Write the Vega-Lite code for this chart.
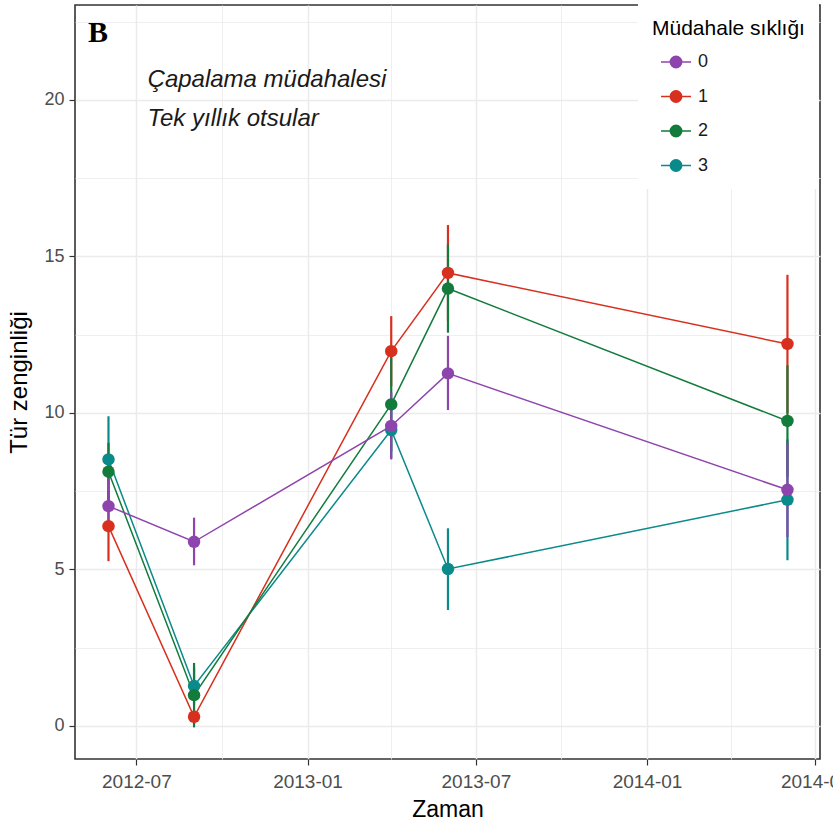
{
  "$schema": "https://vega.github.io/schema/vega-lite/v6.json",
  "width": 745,
  "height": 754,
  "autosize": {"type": "none"},
  "padding": {"left": 75, "top": 5, "right": 13, "bottom": 63},
  "background": "white",
  "config": {
    "view": {"stroke": "#333333", "strokeWidth": 1.6},
    "font": "Liberation Sans",
    "axis": {
      "domain": false,
      "gridColor": "#EBEBEB",
      "tickColor": "#333333",
      "tickWidth": 1.2,
      "labelColor": "#4D4D4D",
      "labelFont": "Liberation Sans",
      "titleFont": "Liberation Sans",
      "titleFontWeight": "normal",
      "titleColor": "#000000"
    },
    "legend": {
      "orient": "none",
      "legendX": 563,
      "legendY": -1,
      "fillColor": "white",
      "padding": 14,
      "titleFont": "Liberation Sans",
      "titleFontSize": 21,
      "titleFontWeight": "normal",
      "titleColor": "#000000",
      "titlePadding": 7,
      "labelFont": "Liberation Sans",
      "labelFontSize": 18,
      "labelColor": "#1A1A1A",
      "labelOffset": 6,
      "symbolType": "M-1,0H1M-0.38,0A0.38,0.38,0,1,0,0.38,0A0.38,0.38,0,1,0,-0.38,0Z",
      "symbolSize": 900,
      "symbolStrokeWidth": 1.5,
      "symbolOffset": 8,
      "rowPadding": 9.5
    }
  },
  "datasets": {
    "richness": [
      {"date": "2012-06-01T00:00:00", "group": "1", "value": 6.38, "lo": 5.26, "hi": 7.5},
      {"date": "2012-09-01T00:00:00", "group": "1", "value": 0.29, "lo": 0.06, "hi": 0.52},
      {"date": "2013-04-01T00:00:00", "group": "1", "value": 11.97, "lo": 10.85, "hi": 13.09},
      {"date": "2013-06-01T00:00:00", "group": "1", "value": 14.47, "lo": 12.94, "hi": 16.0},
      {"date": "2014-06-01T00:00:00", "group": "1", "value": 12.2, "lo": 9.99, "hi": 14.41},
      {"date": "2012-06-01T00:00:00", "group": "3", "value": 8.51, "lo": 7.13, "hi": 9.89},
      {"date": "2012-09-01T00:00:00", "group": "3", "value": 1.27, "lo": 0.67, "hi": 1.87},
      {"date": "2013-04-01T00:00:00", "group": "3", "value": 9.45, "lo": 8.55, "hi": 10.35},
      {"date": "2013-06-01T00:00:00", "group": "3", "value": 5.01, "lo": 3.7, "hi": 6.31},
      {"date": "2014-06-01T00:00:00", "group": "3", "value": 7.22, "lo": 5.29, "hi": 9.15},
      {"date": "2012-06-01T00:00:00", "group": "2", "value": 8.12, "lo": 7.2, "hi": 9.04},
      {"date": "2012-09-01T00:00:00", "group": "2", "value": 0.98, "lo": -0.05, "hi": 2.01},
      {"date": "2013-04-01T00:00:00", "group": "2", "value": 10.27, "lo": 8.77, "hi": 11.77},
      {"date": "2013-06-01T00:00:00", "group": "2", "value": 13.97, "lo": 12.56, "hi": 15.38},
      {"date": "2014-06-01T00:00:00", "group": "2", "value": 9.74, "lo": 7.96, "hi": 11.52},
      {"date": "2012-06-01T00:00:00", "group": "0", "value": 7.02, "lo": 6.2, "hi": 7.9},
      {"date": "2012-09-01T00:00:00", "group": "0", "value": 5.88, "lo": 5.13, "hi": 6.65},
      {"date": "2013-04-01T00:00:00", "group": "0", "value": 9.58, "lo": 8.51, "hi": 10.65},
      {"date": "2013-06-01T00:00:00", "group": "0", "value": 11.26, "lo": 10.09, "hi": 12.46},
      {"date": "2014-06-01T00:00:00", "group": "0", "value": 7.54, "lo": 6.03, "hi": 9.05}
    ],
    "panel": [
      {"date": "2012-05-10T00:00:00", "value": 21.84, "note": "B"}
    ],
    "notes": [
      {"date": "2012-07-13T00:00:00", "value": 20.4, "note": "Çapalama müdahalesi"},
      {"date": "2012-07-13T00:00:00", "value": 19.15, "note": "Tek yıllık otsular"}
    ]
  },
  "encoding": {
    "x": {
      "field": "date",
      "type": "temporal",
      "title": "Zaman",
      "scale": {
        "domain": [{"year": 2012, "month": 4, "date": 26}, {"year": 2014, "month": 7, "date": 6}],
        "nice": false
      },
      "axis": {
        "values": [
          {"year": 2012, "month": 7, "date": 1},
          {"year": 2012, "month": 10, "date": 1},
          {"year": 2013, "month": 1, "date": 1},
          {"year": 2013, "month": 4, "date": 1},
          {"year": 2013, "month": 7, "date": 1},
          {"year": 2013, "month": 10, "date": 1},
          {"year": 2014, "month": 1, "date": 1},
          {"year": 2014, "month": 4, "date": 1},
          {"year": 2014, "month": 7, "date": 1}
        ],
        "format": "%Y-%m",
        "labelExpr": "month(datum.value) % 6 === 0 ? datum.label : ''",
        "labelFlush": false,
        "labelOverlap": false,
        "labelFontSize": 19,
        "labelPadding": 7,
        "tickSize": 6,
        "tickOpacity": {"condition": {"test": "month(datum.value) % 6 !== 0", "value": 0}, "value": 1},
        "gridWidth": {"condition": {"test": "month(datum.value) % 6 !== 0", "value": 0.8}, "value": 1.5},
        "titleFontSize": 23,
        "titlePadding": 7
      }
    },
    "y": {
      "field": "value",
      "type": "quantitative",
      "title": "Tür zenginliği",
      "scale": {"domain": [-1.06, 23.03], "nice": false, "zero": false},
      "axis": {
        "values": [0, 2.5, 5, 7.5, 10, 12.5, 15, 17.5, 20, 22.5],
        "labelExpr": "datum.value % 5 === 0 ? datum.label : ''",
        "labelFontSize": 18,
        "labelPadding": 5,
        "tickSize": 6,
        "tickOpacity": {"condition": {"test": "datum.value % 5 !== 0", "value": 0}, "value": 1},
        "gridWidth": {"condition": {"test": "datum.value % 5 !== 0", "value": 0.8}, "value": 1.5},
        "titleFontSize": 24,
        "titlePadding": 12
      }
    },
    "color": {
      "field": "group",
      "type": "nominal",
      "title": "Müdahale sıklığı",
      "scale": {
        "domain": ["0", "1", "2", "3"],
        "range": ["#8E44AD", "#D7301F", "#137B3C", "#0A8A8A"]
      },
      "legend": {
        "encode": {
          "symbols": {
            "update": {
              "fill": {"scale": "color", "field": "value"},
              "stroke": {"scale": "color", "field": "value"},
              "opacity": {"value": 1}
            }
          }
        }
      }
    }
  },
  "layer": [
    {
      "data": {"name": "richness"},
      "mark": {"type": "rule", "strokeWidth": 2.2},
      "encoding": {
        "y": {
          "field": "lo",
          "type": "quantitative",
          "title": "Tür zenginliği",
          "scale": {"domain": [-1.06, 23.03], "nice": false, "zero": false}
        },
        "y2": {"field": "hi"}
      }
    },
    {
      "data": {"name": "richness"},
      "mark": {"type": "line", "strokeWidth": 1.5}
    },
    {
      "data": {"name": "richness"},
      "mark": {"type": "point", "filled": true, "size": 155, "opacity": 1, "strokeWidth": 0}
    },
    {
      "data": {"name": "panel"},
      "mark": {
        "type": "text",
        "align": "left",
        "baseline": "alphabetic",
        "font": "Liberation Serif",
        "fontWeight": "bold",
        "fontSize": 30
      },
      "encoding": {
        "text": {"field": "note"},
        "color": {"value": "#000000"}
      }
    },
    {
      "data": {"name": "notes"},
      "mark": {
        "type": "text",
        "align": "left",
        "baseline": "alphabetic",
        "font": "Liberation Sans",
        "fontStyle": "italic",
        "fontSize": 24
      },
      "encoding": {
        "text": {"field": "note"},
        "color": {"value": "#1A1A1A"}
      }
    }
  ]
}
